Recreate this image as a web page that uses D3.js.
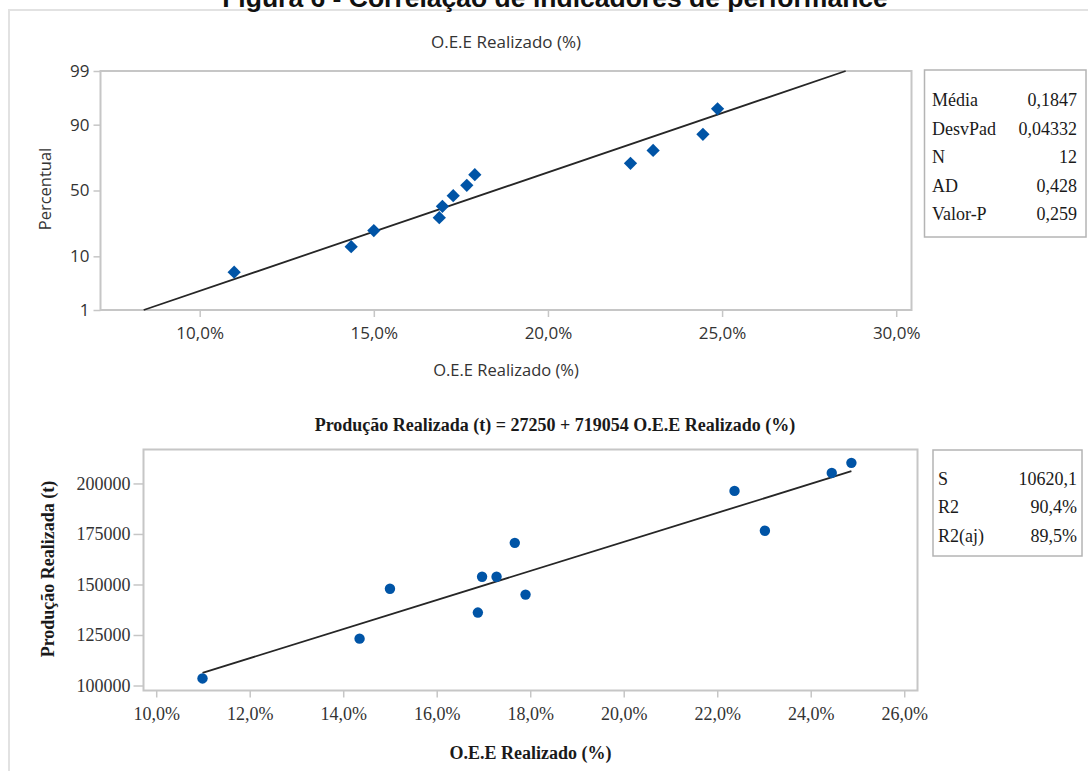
<!DOCTYPE html>
<meta charset="utf-8">
<style>
body, html {
  margin: 0;
  padding: 0;
  background: #fff;
}
svg { display: block; }
.sans { font-family: "Open Sans", sans-serif; fill: #333; }
.serif { font-family: "Liberation Serif", "Times New Roman", serif; fill: #1a1a1a; }
.frame { fill: none; stroke: #c6c6c6; stroke-width: 2px; }
.box { fill: #fff; stroke: #b4b4b4; stroke-width: 1.5px; }
.axis .tick line { stroke: #c6c6c6; stroke-width: 1.5px; }
.axis .domain { display: none; }
.axis text { fill: #333; }
.fit { fill: none; stroke: #262626; stroke-width: 1.8px; }
.pt { fill: #0054a6; }
</style>
<body>
<script src="https://d3js.org/d3.v7.min.js"></script>
<script>

// OEE (fraction) and production per month
var oee = [0.1099, 0.1435, 0.1500, 0.1688, 0.1697, 0.1728, 0.1767, 0.1790, 0.2237, 0.2302, 0.2445, 0.2487]
var production = [103500, 123200, 147900, 136100, 153800, 153800, 170600, 145000, 196300, 176600, 205200, 210200]
// plotted percentiles of the normal probability plot
var percentile = [5.6, 13.7, 21.8, 29.8, 37.9, 46.0, 54.0, 62.1, 70.2, 78.2, 86.3, 94.4]

var normMean = 0.1847,
    normSd = 0.04332
var regIntercept = 27250,
    regSlope = 719054

var probTicks = [1, 10, 50, 90, 99]
var topXTicks = [0.10, 0.15, 0.20, 0.25, 0.30]
var botXTicks = [0.10, 0.12, 0.14, 0.16, 0.18, 0.20, 0.22, 0.24, 0.26]
var botYTicks = [100000, 125000, 150000, 175000, 200000]

var normStatLabels = ["Média", "DesvPad", "N", "AD", "Valor-P"]
var normStatValues = ["0,1847", "0,04332", "12", "0,428", "0,259"]
var regStatLabels = ["S", "R2", "R2(aj)"]
var regStatValues = ["10620,1", "90,4%", "89,5%"]

var figTitle = "Figura 6 - Correlação de indicadores de performance"
var topTitle = "O.E.E Realizado (%)"
var topXLabel = "O.E.E Realizado (%)"
var topYLabel = "Percentual"
var botTitle = "Produção Realizada (t) = 27250 + 719054 O.E.E Realizado (%)"
var botXLabel = "O.E.E Realizado (%)"
var botYLabel = "Produção Realizada (t)"

var width = 1088,
    height = 771

var locale = d3.formatLocale({decimal: ",", thousands: ".", grouping: [3], currency: ["", ""]})
var pct = locale.format(".1%")

// inverse normal cdf (Acklam)
function probit (p) {
  var a = [-39.69683028665376, 220.9460984245205, -275.9285104469687, 138.3577518672690, -30.66479806614716, 2.506628277459239],
      b = [-54.47609879822406, 161.5858368580409, -155.6989798598866, 66.80131188771972, -13.28068155288572],
      c = [-0.007784894002430293, -0.3223964580411365, -2.400758277161838, -2.549732539343734, 4.374664141464968, 2.938163982698783],
      d = [0.007784695709041462, 0.3224671290700398, 2.445134137142996, 3.754408661907416]
  var q, r
  if (p < 0.02425) {
    q = Math.sqrt(-2 * Math.log(p))
    return (((((c[0]*q+c[1])*q+c[2])*q+c[3])*q+c[4])*q+c[5]) / ((((d[0]*q+d[1])*q+d[2])*q+d[3])*q+1)
  }
  if (p > 1 - 0.02425) {
    q = Math.sqrt(-2 * Math.log(1 - p))
    return -(((((c[0]*q+c[1])*q+c[2])*q+c[3])*q+c[4])*q+c[5]) / ((((d[0]*q+d[1])*q+d[2])*q+d[3])*q+1)
  }
  q = p - 0.5
  r = q * q
  return (((((a[0]*r+a[1])*r+a[2])*r+a[3])*r+a[4])*r+a[5])*q / (((((b[0]*r+b[1])*r+b[2])*r+b[3])*r+b[4])*r+1)
}

var svg = d3.select("body").append("svg")
    .attr("width", width)
    .attr("height", height)

// page frame + cut figure caption
svg.append("path")
    .attr("d", "M9," + height + "V10H" + width)
    .attr("fill", "none")
    .attr("stroke", "#e2e2e2")
    .attr("stroke-width", 2)

svg.append("text")
    .attr("x", 555).attr("y", 7)
    .attr("text-anchor", "middle")
    .style("font", "bold 26.5px 'Liberation Sans', Arial, sans-serif")
    .style("fill", "#111")
    .text(figTitle)

// ---------- top: normal probability plot ----------
var tp = {left: 100.5, right: 911.5, top: 71, bottom: 310}
var zMax = probit(0.99)

var xTop = d3.scaleLinear()
    .domain([0.07152, 0.30439])
    .range([tp.left, tp.right])

var yTop = d3.scaleLinear()
    .domain([-zMax, zMax])
    .range([tp.bottom, tp.top])

var gTop = svg.append("g")

gTop.append("g")
    .attr("class", "axis sans")
    .attr("transform", "translate(0," + tp.bottom + ")")
    .style("font-size", "17px")
    .call(d3.axisBottom(xTop).tickValues(topXTicks).tickFormat(pct).tickSize(7).tickPadding(10).tickSizeOuter(0))

gTop.append("g")
    .attr("class", "axis sans")
    .attr("transform", "translate(" + tp.left + ",0)")
    .style("font-size", "17px")
    .call(d3.axisLeft(yTop)
      .tickValues(probTicks.map(function(p) { return probit(p / 100) }))
      .tickFormat(function(d, i) { return probTicks[i] })
      .tickSize(7).tickPadding(4).tickSizeOuter(0))

gTop.append("rect")
    .attr("class", "frame")
    .attr("x", tp.left).attr("y", tp.top)
    .attr("width", tp.right - tp.left).attr("height", tp.bottom - tp.top)

gTop.append("line")
    .attr("class", "fit")
    .attr("x1", xTop(normMean - zMax * normSd)).attr("y1", yTop(-zMax))
    .attr("x2", xTop(normMean + zMax * normSd)).attr("y2", yTop(zMax))

gTop.selectAll(".pt")
    .data(oee)
    .enter().append("path")
    .attr("class", "pt")
    .attr("d", d3.symbol(d3.symbolSquare, 88))
    .attr("transform", function(d, i) {
      return "translate(" + xTop(d) + "," + yTop(probit(percentile[i] / 100)) + ") rotate(45)"
    })

gTop.append("text")
    .attr("class", "sans")
    .attr("x", (tp.left + tp.right) / 2).attr("y", 48)
    .attr("text-anchor", "middle")
    .style("font-size", "17px")
    .text(topTitle)

gTop.append("text")
    .attr("class", "sans")
    .attr("x", (tp.left + tp.right) / 2).attr("y", 376)
    .attr("text-anchor", "middle")
    .style("font-size", "16.5px")
    .text(topXLabel)

gTop.append("text")
    .attr("class", "sans")
    .attr("transform", "translate(51,189) rotate(-90)")
    .attr("text-anchor", "middle")
    .style("font-size", "16.5px")
    .text(topYLabel)

function statBox (g, x0, x1, y0, y1, labelX, valueX, rowY, rowStep, labels, values) {
  g.append("rect")
      .attr("class", "box")
      .attr("x", x0).attr("y", y0)
      .attr("width", x1 - x0).attr("height", y1 - y0)
  var row = d3.scaleLinear().domain([0, 1]).range([rowY, rowY + rowStep])
  g.selectAll(".slab")
      .data(labels)
      .enter().append("text")
      .attr("class", "serif slab")
      .attr("x", labelX)
      .attr("y", function(d, i) { return row(i) })
      .attr("dy", "0.33em")
      .style("font-size", "18px")
      .text(function(d) { return d })
  g.selectAll(".sval")
      .data(values)
      .enter().append("text")
      .attr("class", "serif sval")
      .attr("x", valueX)
      .attr("y", function(d, i) { return row(i) })
      .attr("dy", "0.33em")
      .attr("text-anchor", "end")
      .style("font-size", "18px")
      .text(function(d) { return d })
}

statBox(gTop, 924.5, 1086, 70, 237, 932, 1077, 100.5, 28.4, normStatLabels, normStatValues)

// ---------- bottom: fitted line plot ----------
var bp = {left: 143.5, right: 917.5, top: 449.5, bottom: 690.5}

var xBot = d3.scaleLinear()
    .domain([0.09728, 0.26284])
    .range([bp.left, bp.right])

var yBot = d3.scaleLinear()
    .domain([97530, 216800])
    .range([bp.bottom, bp.top])

var gBot = svg.append("g")

gBot.append("g")
    .attr("class", "axis serif")
    .attr("transform", "translate(0," + bp.bottom + ")")
    .style("font-size", "18px")
    .call(d3.axisBottom(xBot).tickValues(botXTicks).tickFormat(pct).tickSize(7).tickPadding(10).tickSizeOuter(0))

gBot.append("g")
    .attr("class", "axis serif")
    .attr("transform", "translate(" + bp.left + ",0)")
    .style("font-size", "18px")
    .call(d3.axisLeft(yBot).tickValues(botYTicks).tickFormat(d3.format("d")).tickSize(10).tickPadding(3).tickSizeOuter(0))

gBot.append("rect")
    .attr("class", "frame")
    .attr("x", bp.left).attr("y", bp.top)
    .attr("width", bp.right - bp.left).attr("height", bp.bottom - bp.top)

var xExt = d3.extent(oee)
gBot.append("line")
    .attr("class", "fit")
    .attr("x1", xBot(xExt[0])).attr("y1", yBot(regIntercept + regSlope * xExt[0]))
    .attr("x2", xBot(xExt[1])).attr("y2", yBot(regIntercept + regSlope * xExt[1]))

gBot.selectAll(".pt")
    .data(oee)
    .enter().append("circle")
    .attr("class", "pt")
    .attr("cx", function(d) { return xBot(d) })
    .attr("cy", function(d, i) { return yBot(production[i]) })
    .attr("r", 5.2)

gBot.append("text")
    .attr("class", "serif")
    .attr("x", 555).attr("y", 431)
    .attr("text-anchor", "middle")
    .style("font-size", "18px")
    .style("font-weight", "bold")
    .text(botTitle)

gBot.append("text")
    .attr("class", "serif")
    .attr("x", (bp.left + bp.right) / 2).attr("y", 759)
    .attr("text-anchor", "middle")
    .style("font-size", "18px")
    .style("font-weight", "bold")
    .text(botXLabel)

gBot.append("text")
    .attr("class", "serif")
    .attr("transform", "translate(54,569) rotate(-90)")
    .attr("text-anchor", "middle")
    .style("font-size", "18px")
    .style("font-weight", "bold")
    .text(botYLabel)

statBox(gBot, 933, 1082, 450, 556, 938, 1077, 479, 28.5, regStatLabels, regStatValues)

</script>
</body>
